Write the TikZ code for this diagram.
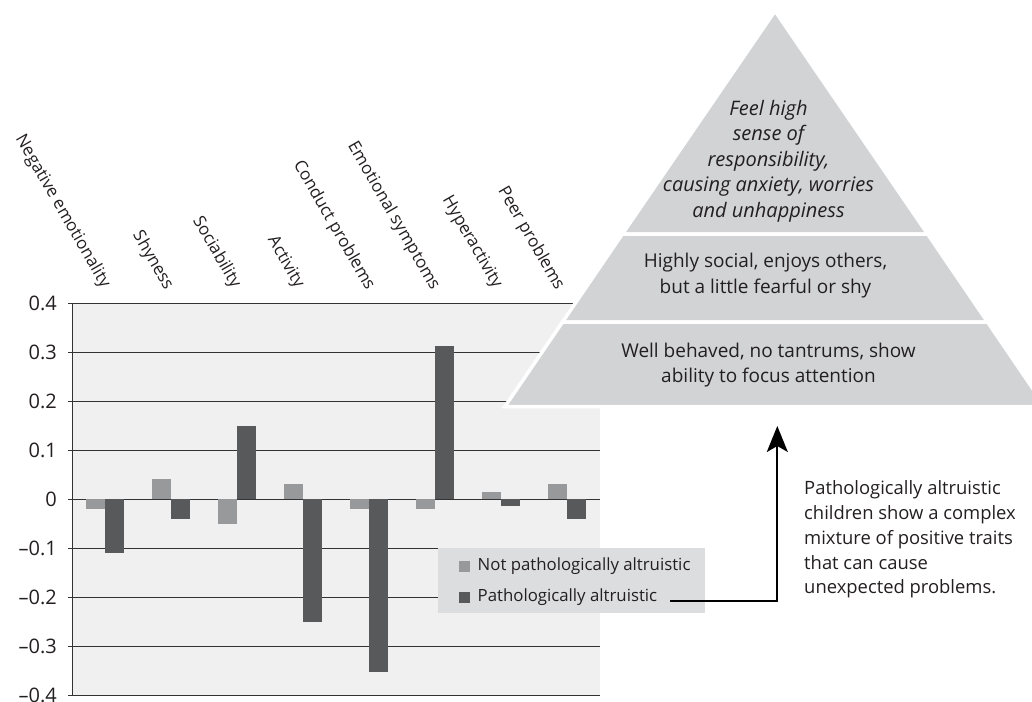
\documentclass[tikz,border=0pt]{standalone}
\usepackage{fontspec}
\setmainfont{Open Sans}
\usetikzlibrary{arrows.meta}
\definecolor{chartbg}{HTML}{F0F0F0}
\definecolor{lightbar}{HTML}{98999B}
\definecolor{darkbar}{HTML}{58595B}
\definecolor{pyr}{HTML}{D1D3D4}
\definecolor{legbg}{HTML}{DCDDDE}
\definecolor{ink}{HTML}{231F20}
\definecolor{gridc}{HTML}{333333}
\tikzset{
  gridline/.style={draw=gridc, line width=1pt},
  ticklab/.style={anchor=east, inner sep=0pt, text=ink, font=\fontsize{20}{24}\selectfont},
  catlab/.style={rotate=-60, anchor=base east, inner sep=0pt, text=ink, font=\fontsize{17}{20}\selectfont},
  layer/.style={fill=pyr, draw=white, line width=3.5pt, line join=miter},
  pyrtext/.style={align=center, inner sep=0pt, text=ink, font=\fontsize{19}{25.5}\selectfont},
  legtext/.style={anchor=west, inner sep=0pt, text=ink, font=\fontsize{16.8}{20}\selectfont},
  note/.style={anchor=west, align=left, inner sep=0pt, text=ink, font=\fontsize{18.4}{24.8}\selectfont},
  pointer/.style={draw=black, line width=2pt, -{Stealth[length=26pt,width=21pt,inset=6pt]}}
}
\begin{document}
\begin{tikzpicture}[x=1pt,y=-1pt]
\useasboundingbox (0,0) rectangle (1032,701);
% chart background
\fill[chartbg] (72,303.3) rectangle (600,695.3);
% grid lines and ticks
\foreach \i in {0,...,8}{
  \draw[gridline] (68,{303.3+49*\i}) -- (600,{303.3+49*\i});
}
\draw[gridline] (72,303.3) -- (72,695.3);
% tick labels
\foreach \i/\t in {0/0.4,1/0.3,2/0.2,3/0.1,4/0,5/\textendash0.1,6/\textendash0.2,7/\textendash0.3,8/\textendash0.4}{
  \node[ticklab] (tl\i) at (57,{303.3+49*\i}) {\t};
}
% bars
\foreach \c/\l/\d in {105/-0.02/-0.11,171/0.041/-0.04,237/-0.05/0.15,303/0.031/-0.25,369/-0.02/-0.352,435/-0.02/0.313,501/0.015/-0.013,567/0.031/-0.04}{
  \fill[lightbar] ({\c-19},499.3) rectangle (\c,{499.3-490*\l});
  \fill[darkbar] (\c,499.3) rectangle ({\c+19},{499.3-490*\d});
}
% category labels
\node[catlab] (c1) at (102,289) {Negative emotionality};
\node[catlab] (c2) at (165,291) {Shyness};
\node[catlab] (c3) at (232.5,289) {Sociability};
\node[catlab] (c4) at (296,289) {Activity};
\node[catlab] (c5) at (366.5,291) {Conduct problems};
\node[catlab] (c6) at (431.5,291) {Emotional symptoms};
\node[catlab] (c7) at (494,289) {Hyperactivity};
\node[catlab] (c8) at (556,291) {Peer problems};
% legend
\node[fill=legbg, minimum width=267pt, minimum height=65pt, inner sep=0pt, anchor=north west] (legend) at (438,548) {};
\fill[lightbar] (459,560.7) rectangle (470,571.5);
\fill[darkbar] (459,591.7) rectangle (470,602.5);
\node[legtext] (leg1) at (477.5,566) {Not pathologically altruistic};
\node[legtext] (leg2) at (477.5,597) {Pathologically altruistic};
% pyramid
\draw[layer] (775,11) -- (927.6,234) -- (622.4,234) -- cycle;
\draw[layer] (622.4,234) -- (927.6,234) -- (987.5,322) -- (562.5,322) -- cycle;
\draw[layer] (562.5,322) -- (987.5,322) -- (1045,406.5) -- (505,406.5) -- cycle;
\node[pyrtext, font=\fontsize{20}{25.5}\selectfont\itshape] (top) at (768.5,161) {Feel high\\sense of\\responsibility,\\causing anxiety, worries\\and unhappiness};
\node[pyrtext] (mid) at (765.5,275.5) {Highly social, enjoys others,\\but a little fearful or shy};
\node[pyrtext] (bot) at (768.5,365) {Well behaved, no tantrums, show\\ability to focus attention};
% arrow
\coordinate (arrS) at (670,601);
\coordinate (arrE) at (777.3,426);
\draw[pointer] (arrS) -| (arrE);
% note
\node[note] (note) at (804,539.5) {Pathologically altruistic\\children show a complex\\mixture of positive traits\\that can cause\\unexpected problems.};
\end{tikzpicture}
\end{document}
